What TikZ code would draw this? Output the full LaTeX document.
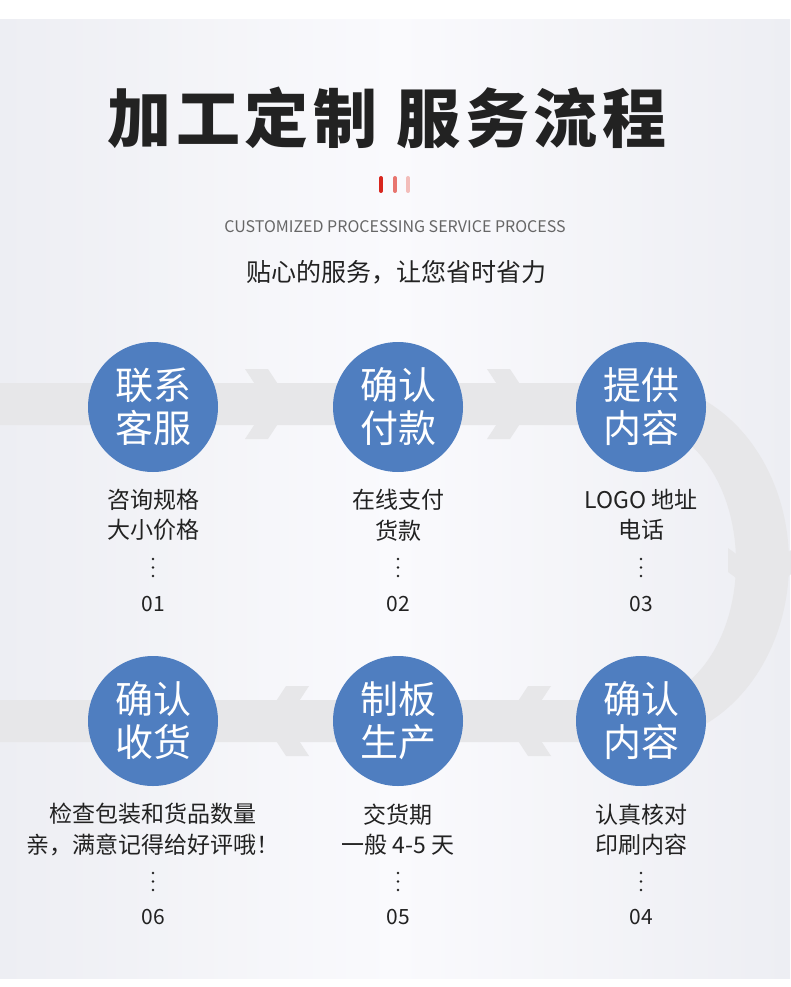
\documentclass[tikz,border=0pt]{standalone}
\usepackage{fontspec}
\newfontfamily\cjk{Noto Sans CJK SC}
\definecolor{bgE}{HTML}{EDEEF3}
\definecolor{bgC}{HTML}{FAFAFD}
\definecolor{bandC}{HTML}{E7E7E9}
\definecolor{blueC}{HTML}{4F7EC0}
\definecolor{inkC}{HTML}{222222}
\definecolor{grayT}{HTML}{666666}
\definecolor{redA}{HTML}{D8261E}
\definecolor{redB}{HTML}{E8756F}
\definecolor{redC}{HTML}{F3BDBA}
\tikzset{
  circ/.style={circle, fill=blueC, minimum size=130pt, inner sep=0pt, text=white,
    align=center, font=\cjk\fontsize{38}{43}\selectfont},
  desc/.style={align=center, text=inkC, inner sep=0pt, font=\cjk\fontsize{23}{30.5}\selectfont},
  num/.style={text=inkC, inner sep=0pt, font=\cjk\fontsize{21}{21}\selectfont},
  bar/.style={line width=4pt, line cap=round},
  chev/.style={fill=bandC}
}
\begin{document}
\begin{tikzpicture}[x=1pt,y=-1pt]
\useasboundingbox (0,0) rectangle (790,987);
\fill[white] (0,0) rectangle (790,987);
\shade[left color=bgE, right color=bgE, middle color=bgC] (0,20) rectangle (790,978);

% band with right-hand ring
\fill[bandC] (0,383) -- (641,383) arc[start angle=-90, end angle=90, x radius=148, y radius=179.5]
  -- (0,742) -- (0,700) -- (641,700) arc[start angle=90, end angle=-90, x radius=95, y radius=137.5]
  -- (0,425) -- cycle;
% chevrons row 1 (pointing right)
\foreach \xo in {245,487}{
  \fill[chev] (\xo,369) -- (\xo+23,369) -- (\xo+46,404) -- (\xo+23,439) -- (\xo,439) -- (\xo+23,404) -- cycle;
}
% chevrons row 2 (pointing left)
\foreach \xo in {263,505}{
  \fill[chev] (\xo,721) -- (\xo+23,686) -- (\xo+46,686) -- (\xo+23,721) -- (\xo+46,756) -- (\xo+23,756) -- cycle;
}
% chevron on ring (pointing down)
\fill[chev] (728,548) -- (728,572) -- (761,596) -- (794,572) -- (794,548) -- (761,572) -- cycle;

% title
\node[text=inkC, inner sep=0pt, font=\cjk\bfseries\fontsize{64}{64}\selectfont\addfontfeature{LetterSpace=7}] (title) at (387,118) {加工定制 服务流程};
\draw[bar, redA] (381,178) -- (381,191);
\draw[bar, redB] (395,178) -- (395,191);
\draw[bar, redC] (408,178) -- (408,191);
\node[text=grayT, inner sep=0pt, font=\cjk\fontsize{16}{16}\selectfont] (en) at (395,227) {CUSTOMIZED PROCESSING SERVICE PROCESS};
\node[text=inkC, inner sep=0pt, font=\cjk\fontsize{25}{25}\selectfont] (sub) at (396,272) {贴心的服务，让您省时省力};

% circles
\node[circ] (c1) at (153,407) {联系\\客服};
\node[circ] (c2) at (398,407) {确认\\付款};
\node[circ] (c3) at (641,407) {提供\\内容};
\node[circ] (c6) at (153,721) {确认\\收货};
\node[circ] (c5) at (398,721) {制板\\生产};
\node[circ] (c4) at (641,721) {确认\\内容};

% descriptions
\node[desc] (d1) at (153,515) {咨询规格\\大小价格};
\node[desc] (d2) at (398,515) {在线支付\\货款};
\node[desc] (d3) at (641,515) {LOGO 地址\\电话};
\node[desc] (d6) at (153,829.5) {检查包装和货品数量\\亲，满意记得给好评哦！};
\node[desc] (d5) at (398,829.5) {交货期\\一般 4-5 天};
\node[desc] (d4) at (641,829.5) {认真核对\\印刷内容};

% dots
\foreach \cx in {153,398,641}{
  \foreach \cy in {559,567.5,576,873,881.5,890}{
    \fill[inkC] (\cx,\cy) circle (1.4);
  }
}

% numbers
\node[num] (n1) at (153,604) {01};
\node[num] (n2) at (398,604) {02};
\node[num] (n3) at (641,604) {03};
\node[num] (n6) at (153,917) {06};
\node[num] (n5) at (398,917) {05};
\node[num] (n4) at (641,917) {04};
\end{tikzpicture}
\end{document}
